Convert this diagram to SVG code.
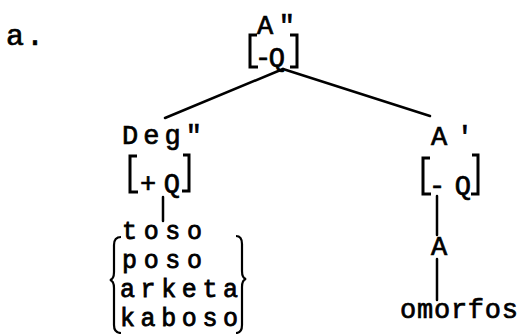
<svg xmlns="http://www.w3.org/2000/svg" width="523" height="334" viewBox="0 0 523 334">
<style>
text{font-family:"Liberation Mono","Courier New",monospace;font-size:27px;fill:#000;stroke:#000;stroke-width:0.7}
.w{font-size:25px;stroke-width:0.8}
.ln{stroke:#000;stroke-width:2.5;fill:none;stroke-linecap:round}
.br{stroke:#000;stroke-width:3;fill:none;stroke-linejoin:miter}
.cb{stroke:#000;stroke-width:2.2;fill:none}
</style>
<rect width="523" height="334" fill="#fff"/>
<text x="6" y="45" textLength="38" lengthAdjust="spacing" style="font-size:30px">a.</text>
<g id="connectors">
<line class="ln" x1="283" y1="69" x2="165" y2="118"/>
<line class="ln" x1="283" y1="69" x2="430" y2="116"/>
<line class="ln" x1="163" y1="197" x2="163" y2="221"/>
<line class="ln" x1="437" y1="196" x2="437" y2="235"/>
<line class="ln" x1="437" y1="259" x2="437" y2="300"/>
</g>
<g id="n-A2">
<text x="257" y="34" textLength="38" lengthAdjust="spacing">A"</text>
<path class="br" d="M257,35 L250,35 L250,67 L258,67"/>
<text x="255" y="66" textLength="30" lengthAdjust="spacing">-Q</text>
<path class="br" d="M290,35 L297,35 L297,67 L290,67"/>
</g>
<g id="n-Deg">
<text x="122" y="144" textLength="80" lengthAdjust="spacing">Deg"</text>
<path class="br" d="M137,156 L130,156 L130,192 L138,192"/>
<text x="140" y="192" textLength="40" lengthAdjust="spacing">+Q</text>
<path class="br" d="M183,155 L189,155 L189,191 L182,191"/>
</g>
<g id="n-Aprime">
<text x="431" y="145" textLength="42" lengthAdjust="spacing">A'</text>
<path class="br" d="M430,158 L423,158 L423,194 L431,194"/>
<text x="429" y="194" textLength="42" lengthAdjust="spacing">-Q</text>
<path class="br" d="M472,155 L478,155 L478,194 L471,194"/>
</g>
<g id="n-words">
<text class="w" x="122" y="239" textLength="80" lengthAdjust="spacing">toso</text>
<text class="w" x="122" y="268" textLength="80" lengthAdjust="spacing">poso</text>
<text class="w" x="120" y="297" textLength="118" lengthAdjust="spacing">arketa</text>
<text class="w" x="120" y="326" textLength="118" lengthAdjust="spacing">kaboso</text>
<path class="cb" d="M121,237 Q114,237 114,245 L114,272 Q114,279 110,280 Q114,281 114,288 L114,325 Q114,333 121,333"/>
<path class="cb" d="M236,236 Q242,236 242,244 L242,271 Q242,278 246,279 Q242,280 242,287 L242,325 Q242,333 236,333"/>
</g>
<g id="n-A">
<text x="431" y="255">A</text>
</g>
<g id="n-omorfos">
<text x="400" y="318" textLength="118" lengthAdjust="spacing">omorfos</text>
</g>
</svg>
